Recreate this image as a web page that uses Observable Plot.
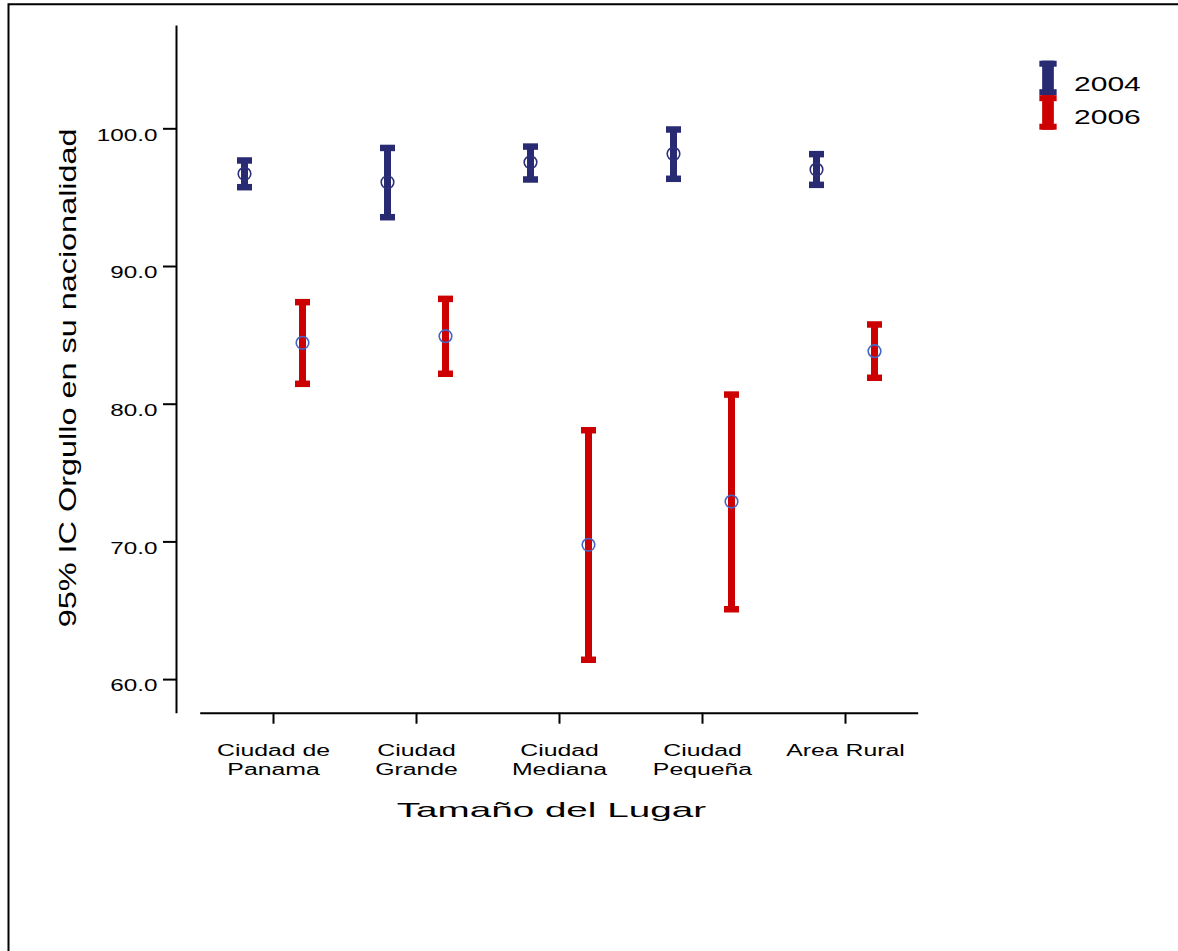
<!DOCTYPE html>
<html><head><meta charset="utf-8">
<script src="https://cdn.jsdelivr.net/npm/d3@7"></script>
<script src="https://cdn.jsdelivr.net/npm/@observablehq/plot@0.6"></script>
<style>
html,body{margin:0;padding:0;background:#fff;width:1178px;height:951px;overflow:hidden;font-family:"Liberation Sans",Arial,sans-serif;}
#frame{position:absolute;left:0;top:0;}
#chart{position:absolute;left:0;top:0;}
#legend{position:absolute;left:1030px;top:55px;}
</style></head><body>
<svg id="frame" width="1178" height="951"><path d="M8.5,951V4.3H1178" fill="none" stroke="#000" stroke-width="2"/></svg>
<div id="chart"></div><div id="legend"></div>
<script>
// ---- data ----
const categories = ["Ciudad de Panama", "Ciudad Grande", "Ciudad Mediana", "Ciudad Pequeña", "Area Rural"];
const categoryLabels = ["Ciudad de\nPanama", "Ciudad\nGrande", "Ciudad\nMediana", "Ciudad\nPequeña", "Area Rural"];
const years = ["2004", "2006"];
const mean2004 = [96.73, 96.12, 97.57, 98.18, 97.04];
const low2004  = [95.76, 93.58, 96.32, 96.37, 95.93];
const high2004 = [97.70, 98.61, 98.71, 99.95, 98.16];
const mean2006 = [84.46, 84.94, 69.79, 72.93, 83.85];
const low2006  = [81.48, 82.21, 61.44, 65.11, 81.92];
const high2006 = [87.41, 87.65, 78.11, 80.70, 85.79];
const yTicks = [60, 70, 80, 90, 100];
const yTitle = "95% IC Orgullo en su nacionalidad";
const xTitle = "Tamaño del Lugar";

// ---- styles ----
const barColor = {"2004": "#292b72", "2006": "#cc0000"};
const circleColor = {"2004": "#2c2f7a", "2006": "#4565c4"};
const offset = {"2004": -29, "2006": 29};
// whisker cap glyph (15 x 6.5 px bar)
const capSymbol = {draw(ctx) { ctx.moveTo(-7.5, -3.25); ctx.lineTo(7.5, -3.25); ctx.lineTo(7.5, 3.25); ctx.lineTo(-7.5, 3.25); ctx.closePath(); }};

const means = {"2004": mean2004, "2006": mean2006};
const lows = {"2004": low2004, "2006": low2006};
const highs = {"2004": high2004, "2006": high2006};
const rows = years.flatMap(yr => categories.map((c, i) => ({year: yr, cat: c, mean: means[yr][i], lo: lows[yr][i], hi: highs[yr][i]})));
const labelOf = new Map(categories.map((c, i) => [c, categoryLabels[i]]));

const seriesMarks = years.flatMap(yr => {
  const d = rows.filter(r => r.year === yr);
  const dx = offset[yr];
  return [
    Plot.ruleX(d, {x: "cat", y1: "lo", y2: "hi", stroke: barColor[yr], strokeWidth: 7, dx}),
    Plot.dot(d, {x: "cat", y: "hi", symbol: capSymbol, fill: barColor[yr], stroke: "none", dx}),
    Plot.dot(d, {x: "cat", y: "lo", symbol: capSymbol, fill: barColor[yr], stroke: "none", dx}),
    Plot.dot(d, {x: "cat", y: "mean", r: 6.3, stroke: circleColor[yr], strokeWidth: 1.6, fill: "none", dx})
  ];
});

const chart = Plot.plot({
  width: 1178, height: 951,
  marginLeft: 176, marginRight: 261.3, marginTop: 26, marginBottom: 238.3,
  style: {fontFamily: '"Liberation Sans", Arial, sans-serif', background: "transparent", color: "#000"},
  x: {type: "point", domain: categories, padding: 0.5, insetLeft: 24.7, axis: null},
  y: {domain: [57.56, 107.43], axis: null},
  marks: [
    Plot.frame({anchor: "left", strokeWidth: 2, insetBottom: 1}),
    Plot.frame({anchor: "bottom", strokeWidth: 2, insetLeft: 24.7}),
    Plot.axisY(yTicks, {tickSize: 13, fill: "none", strokeWidth: 2, label: null}),
    Plot.axisY(yTicks, {tickSize: 13, tickPadding: 6, stroke: "none", dy: 6.6, fontSize: 16, tickFormat: d => d.toFixed(1), label: null}),
    Plot.axisX(categories, {tickSize: 11, fill: "none", strokeWidth: 2, label: null}),
    Plot.axisX(categories, {tickSize: 11, tickPadding: 18.5, stroke: "none", fontSize: 16, lineHeight: 1.17, tickFormat: d => labelOf.get(d), label: null}),
    Plot.text([yTitle], {text: d => d, frameAnchor: "left", rotate: -90, dx: -100.3, dy: 8, fontSize: 24, lineAnchor: "bottom", textAnchor: "middle"}),
    Plot.text([xTitle], {text: d => d, frameAnchor: "bottom", dx: 4.5, dy: 103.3, fontSize: 21, lineAnchor: "bottom", textAnchor: "middle"}),
    ...seriesMarks
  ]
});
document.getElementById("chart").append(chart);

// ---- legend ----
const leg = d3.select("#legend").append("svg").attr("width", 140).attr("height", 80)
  .style("font-family", '"Liberation Sans", Arial, sans-serif');
years.forEach((yr, i) => {
  const g = leg.append("g").attr("transform", `translate(18,${5.7 + i * 34.5})`);
  g.append("rect").attr("x", -5.85).attr("y", 0).attr("width", 11.7).attr("height", 34.5).attr("fill", barColor[yr]);
  g.append("rect").attr("x", -8.65).attr("y", 0).attr("width", 17.3).attr("height", 6).attr("fill", barColor[yr]);
  g.append("rect").attr("x", -8.65).attr("y", 28.5).attr("width", 17.3).attr("height", 6).attr("fill", barColor[yr]);
  leg.append("text").attr("x", 44).attr("y", 36 + i * 33.3).attr("font-size", 21).attr("fill", "#000").text(yr);
});

// ---- horizontal text widening to match the reference typeface ----
function widen(nodes, factor) {
  nodes.forEach(t => {
    const spans = t.querySelectorAll("tspan");
    const items = spans.length ? Array.from(spans) : [t];
    items.forEach(el => {
      const len = el.getComputedTextLength();
      el.setAttribute("textLength", (len * factor).toFixed(2));
      el.setAttribute("lengthAdjust", "spacingAndGlyphs");
    });
  });
}
widen(chart.querySelectorAll('g[aria-label="y-axis tick label"] text'), 1.515);
widen(chart.querySelectorAll('g[aria-label="x-axis tick label"] text'), 1.55);
const titleFactor = new Map([[yTitle, 1.35], [xTitle, 1.84]]);
chart.querySelectorAll('g[aria-label="text"] text').forEach(t => {
  const f = titleFactor.get(t.textContent);
  if (f) widen([t], f);
});
widen(document.querySelectorAll("#legend text"), 1.43);
</script></body></html>
